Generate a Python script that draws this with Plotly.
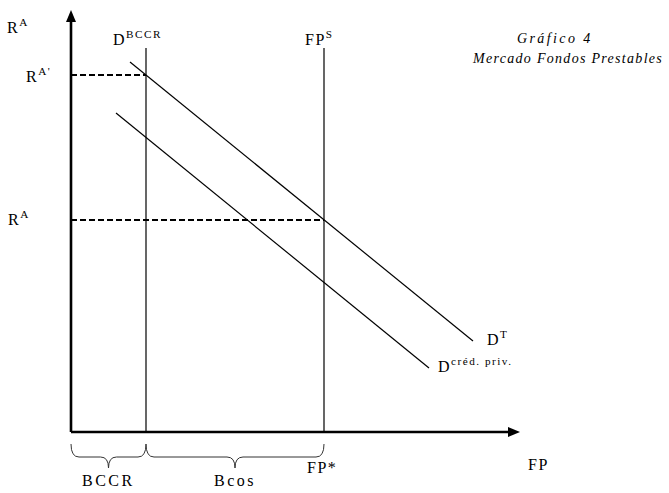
import plotly.graph_objects as go

# ---- data (diagram units: origin at the axes corner) ----
q_bccr = 75          # BCCR quantity (D^BCCR vertical)
fp_star = 253        # FP* (FP^S vertical)
ra_prime = 357       # R^A'
ra = 212             # R^A
vert_top = 384       # top of the vertical curves
y_axis_top = 422
x_axis_end = 449

dt_x = [59, 402]
dt_y = [370, 91]
dp_x = [45, 358]
dp_y = [319, 64]

FONT = "Liberation Serif, Times New Roman, serif"
LINE = "#000000"

fig = go.Figure()

def line(x, y, width=1.2, dash=None):
    fig.add_trace(go.Scatter(x=x, y=y, mode="lines", hoverinfo="skip",
                             line=dict(color=LINE, width=width, dash=dash)))

# axes
line([0, 0], [0, y_axis_top - 10], width=2.6)
line([0, x_axis_end - 10], [0, 0], width=2.6)
# vertical curves
line([q_bccr, q_bccr], [0, vert_top])
line([fp_star, fp_star], [0, vert_top])
# demand curves
line(dt_x, dt_y)
line(dp_x, dp_y)
# dashed reference lines
line([0, q_bccr], [ra_prime, ra_prime], width=2, dash="6px,3px")
line([0, fp_star], [ra, ra], width=2, dash="6px,3px")

shapes = []
# arrow heads
shapes.append(dict(type="path", xref="x", yref="y",
                   path=f"M -5,{y_axis_top-12} L 5,{y_axis_top-12} L 0,{y_axis_top} Z",
                   fillcolor=LINE, line=dict(width=0)))
shapes.append(dict(type="path", xref="x", yref="y",
                   path=f"M {x_axis_end-12},-5 L {x_axis_end-12},5 L {x_axis_end},0 Z",
                   fillcolor=LINE, line=dict(width=0)))

# curly braces
def brace(x0, x1, ytop=-12, ymid=-25, ytip=-36, r=8):
    xc = (x0 + x1) / 2
    return (f"M {x0},{ytop} Q {x0},{ymid} {x0+r},{ymid} L {xc-r},{ymid} "
            f"Q {xc},{ymid} {xc},{ytip} Q {xc},{ymid} {xc+r},{ymid} "
            f"L {x1-r},{ymid} Q {x1},{ymid} {x1},{ytop}")

for a, b in [(0, q_bccr), (q_bccr, fp_star)]:
    shapes.append(dict(type="path", xref="x", yref="y", path=brace(a, b),
                       line=dict(color="#333333", width=1)))

def sp(t, ls=1.5):
    return f'<span style="letter-spacing:{ls}px">{t}</span>'

ann = []
def label(x, y, text, size=16, italic=False, ls=1.5):
    ann.append(dict(x=x, y=y, xref="x", yref="y", text=sp(text, ls), showarrow=False,
                    font=dict(family=FONT, size=size, color="#000000",
                              style="italic" if italic else "normal"),
                    xanchor="center", yanchor="middle"))

label(-53, 406, "R<sup>A</sup>")
label(-33, 357, "R<sup>A'</sup>")
label(-52, 214, "R<sup>A</sup>")
label(q_bccr - 9, 394, "D<sup>BCCR</sup>")
label(fp_star - 5, 394, "FP<sup>S</sup>")
label(484, 394, "Gráfico 4", size=14, italic=True, ls=2.4)
label(496, 374, "Mercado Fondos Prestables", size=14, italic=True, ls=1.3)
label(426, 94, "D<sup>T</sup>")
label(404, 67, "D<sup>créd. priv.</sup>")
label(fp_star - 2, -35, "FP*")
label(q_bccr / 2, -48, "BCCR", ls=2.5)
label((q_bccr + fp_star) / 2, -48, "Bcos", ls=2.5)
label(467, -32, "FP")

fig.update_layout(
    width=669, height=493,
    margin=dict(l=0, r=0, t=0, b=0),
    paper_bgcolor="white", plot_bgcolor="white",
    showlegend=False,
    xaxis=dict(range=[-71, 598], visible=False, fixedrange=True),
    yaxis=dict(range=[-61, 432], visible=False, fixedrange=True),
    shapes=shapes, annotations=ann,
)
fig.write_html("out.html", config={"displayModeBar": False},
               post_script="document.body.style.margin='0';document.body.style.overflow='hidden';")
